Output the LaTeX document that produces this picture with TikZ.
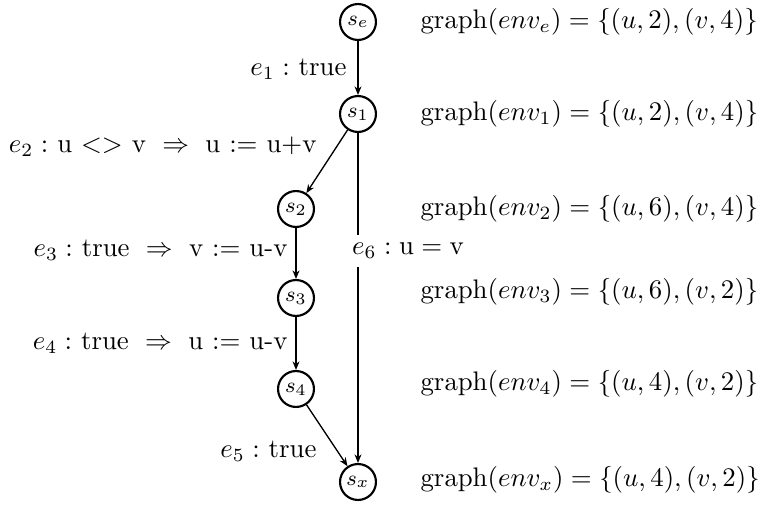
\documentclass[tikz,border=0pt]{standalone}
\usetikzlibrary{arrows.meta}
\begin{document}
\begin{tikzpicture}[x=0.373pt,y=-0.373pt,
  st/.style={circle,draw,line width=0.8pt,minimum size=13.4pt,inner sep=0pt,font=\footnotesize},
  edge/.style={line width=0.5pt,-{Stealth[length=3.2pt,width=2.6pt]}},
  lab/.style={inner sep=0pt},
  env/.style={anchor=west,inner sep=0pt}]
\useasboundingbox (0,0) rectangle (764,506);
\node[st] (se) at (358,22) {$s_e$};
\node[st] (s1) at (358,114) {$s_1$};
\node[st] (s2) at (296,209) {$s_2$};
\node[st] (s3) at (296,298) {$s_3$};
\node[st] (s4) at (296,389) {$s_4$};
\node[st] (sx) at (358,482) {$s_x$};
\draw[edge] (se) -- (s1);
\draw[edge] (s1) -- (s2);
\draw[edge] (s2) -- (s3);
\draw[edge] (s3) -- (s4);
\draw[edge] (s4) -- (sx);
\draw[edge] (s1) -- (sx);
\node[lab,anchor=east] (l1) at (347,69) {$e_1:$\ true};
\node[lab,anchor=east] (l2) at (317,147) {$e_2:$\ u $<>$ v $\;\Rightarrow\;$ u $:=$ u+v};
\node[lab,anchor=east] (l3) at (288,250) {$e_3:$\ true $\;\Rightarrow\;$ v $:=$ u-v};
\node[lab,anchor=east] (l4) at (288,343) {$e_4:$\ true $\;\Rightarrow\;$ u $:=$ u-v};
\node[lab,anchor=east] (l5) at (317,451) {$e_5:$\ true};
\node[anchor=west,fill=white,inner xsep=1pt,inner ysep=3pt] (l6) at (349,251) {$e_6:\mathrm{u}=\mathrm{v}$};
\node[env] (ge) at (420,22) {$\mathrm{graph}(env_e)=\{(u,2),(v,4)\}$};
\node[env] (g1) at (420,114) {$\mathrm{graph}(env_1)=\{(u,2),(v,4)\}$};
\node[env] (g2) at (420,209) {$\mathrm{graph}(env_2)=\{(u,6),(v,4)\}$};
\node[env] (g3) at (420,292) {$\mathrm{graph}(env_3)=\{(u,6),(v,2)\}$};
\node[env] (g4) at (420,384) {$\mathrm{graph}(env_4)=\{(u,4),(v,2)\}$};
\node[env] (gx) at (420,480) {$\mathrm{graph}(env_x)=\{(u,4),(v,2)\}$};
\end{tikzpicture}
\end{document}
